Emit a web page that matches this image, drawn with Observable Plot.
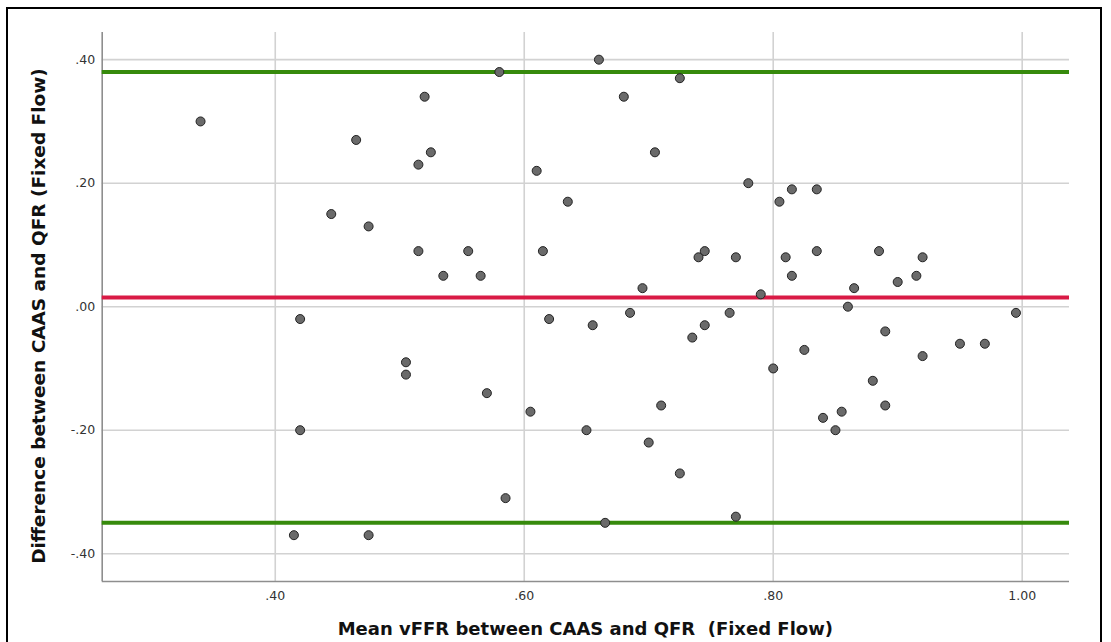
<!DOCTYPE html>
<html>
<head>
<meta charset="utf-8">
<script src="https://cdn.jsdelivr.net/npm/d3@7"></script>
<script src="https://cdn.jsdelivr.net/npm/@observablehq/plot@0.6"></script>
<style>
  html, body { margin: 0; padding: 0; background: #fff; }
  #wrap { position: relative; width: 1111px; height: 642px; overflow: hidden; }
  #border { position: absolute; left: 6px; top: 7px; width: 1096px; height: 660px; border: 2px solid #000; box-sizing: border-box; pointer-events: none; }
  #chart { position: absolute; left: 0; top: 0; }
</style>
</head>
<body>
<div id="wrap"><div id="chart"></div><div id="border"></div></div>
<script>
// Mean vFFR (x) and difference (y) for each case
const meanVFFR = [
  0.34, 0.52, 0.465, 0.525, 0.515, 0.445, 0.475, 0.515,
  0.58, 0.66, 0.725, 0.68, 0.705, 0.61, 0.78, 0.635, 0.555, 0.615, 0.535, 0.565, 0.74, 0.745, 0.77, 0.695, 0.79,
  0.805, 0.815, 0.835, 0.81, 0.835, 0.815, 0.885, 0.92, 0.915, 0.90, 0.865, 0.86,
  0.42, 0.505, 0.505, 0.42, 0.415, 0.475,
  0.62, 0.655, 0.685, 0.735, 0.745, 0.765, 0.57, 0.605, 0.71, 0.65, 0.70, 0.725, 0.585, 0.665, 0.77,
  0.995, 0.89, 0.825, 0.80, 0.92, 0.95, 0.97, 0.88, 0.855, 0.84, 0.85, 0.89
];
const difference = [
  0.30, 0.34, 0.27, 0.25, 0.23, 0.15, 0.13, 0.09,
  0.38, 0.40, 0.37, 0.34, 0.25, 0.22, 0.20, 0.17, 0.09, 0.09, 0.05, 0.05, 0.08, 0.09, 0.08, 0.03, 0.02,
  0.17, 0.19, 0.19, 0.08, 0.09, 0.05, 0.09, 0.08, 0.05, 0.04, 0.03, 0.00,
  -0.02, -0.09, -0.11, -0.20, -0.37, -0.37,
  -0.02, -0.03, -0.01, -0.05, -0.03, -0.01, -0.14, -0.17, -0.16, -0.20, -0.22, -0.27, -0.31, -0.35, -0.34,
  -0.01, -0.04, -0.07, -0.10, -0.08, -0.06, -0.06, -0.12, -0.17, -0.18, -0.20, -0.16
];
const meanDifference = [0.015];
const limitsOfAgreement = [0.38, -0.35];
const xTicks = [0.4, 0.6, 0.8, 1.0];
const yTicks = [-0.4, -0.2, 0.0, 0.2, 0.4];
const xDomain = [0.261, 1.038];
const yDomain = [-0.445, 0.444];
const xTitle = "Mean vFFR between CAAS and QFR  (Fixed Flow)";
const yTitle = "Difference between CAAS and QFR (Fixed Flow)";

const data = meanVFFR.map((m, i) => ({mean: m, diff: difference[i]}));
const fmt = d => (d < 0 ? "-" : "") + Math.abs(d).toFixed(2).replace(/^0/, "");

const W = 1111, H = 642;
const mL = 101.7, mR = 42, mT = 32, mB = 61;

const plot = Plot.plot({
  width: W, height: H,
  marginLeft: mL, marginRight: mR, marginTop: mT, marginBottom: mB,
  style: {fontFamily: "'DejaVu Sans', sans-serif", fontSize: "12.5px", color: "#333", background: "transparent", overflow: "visible"},
  x: {domain: xDomain},
  y: {domain: yDomain},
  marks: [
    Plot.gridX(xTicks, {stroke: "#d2d2d2", strokeOpacity: 1, strokeWidth: 1.6}),
    Plot.gridY(yTicks, {stroke: "#d2d2d2", strokeOpacity: 1, strokeWidth: 1.6}),
    Plot.ruleX([xDomain[0]], {stroke: "#8e8e8e", strokeWidth: 1.6}),
    Plot.ruleY([yDomain[0]], {stroke: "#8e8e8e", strokeWidth: 1.6}),
    Plot.ruleY(limitsOfAgreement, {stroke: "#368a0c", strokeWidth: 4}),
    Plot.ruleY(meanDifference, {stroke: "#d91a45", strokeWidth: 4}),
    Plot.dot(data, {x: "mean", y: "diff", r: 4.5, fill: "#6a6a6a", stroke: "#222", strokeWidth: 1, fillOpacity: 1}),
    Plot.axisX(xTicks, {tickSize: 0, tickPadding: 10, tickFormat: fmt, label: null, fill: "#333"}),
    Plot.axisY(yTicks, {tickSize: 0, tickPadding: 7, tickFormat: fmt, label: null, fill: "#333"})
  ]
});

document.getElementById("chart").appendChild(plot);

const svg = d3.select(plot);
svg.append("text")
  .attr("x", (mL + (W - mR)) / 2)
  .attr("y", 630)
  .attr("text-anchor", "middle")
  .attr("dominant-baseline", "middle")
  .attr("font-family", "'DejaVu Sans', sans-serif")
  .attr("font-weight", "bold")
  .attr("font-size", 18)
  .attr("fill", "#111")
  .style("white-space", "pre")
  .text(xTitle);
svg.append("text")
  .attr("transform", `translate(40,316) rotate(-90)`)
  .attr("text-anchor", "middle")
  .attr("dominant-baseline", "middle")
  .attr("font-family", "'DejaVu Sans', sans-serif")
  .attr("font-weight", "bold")
  .attr("font-size", 18.5)
  .attr("fill", "#111")
  .text(yTitle);
</script>
</body>
</html>
